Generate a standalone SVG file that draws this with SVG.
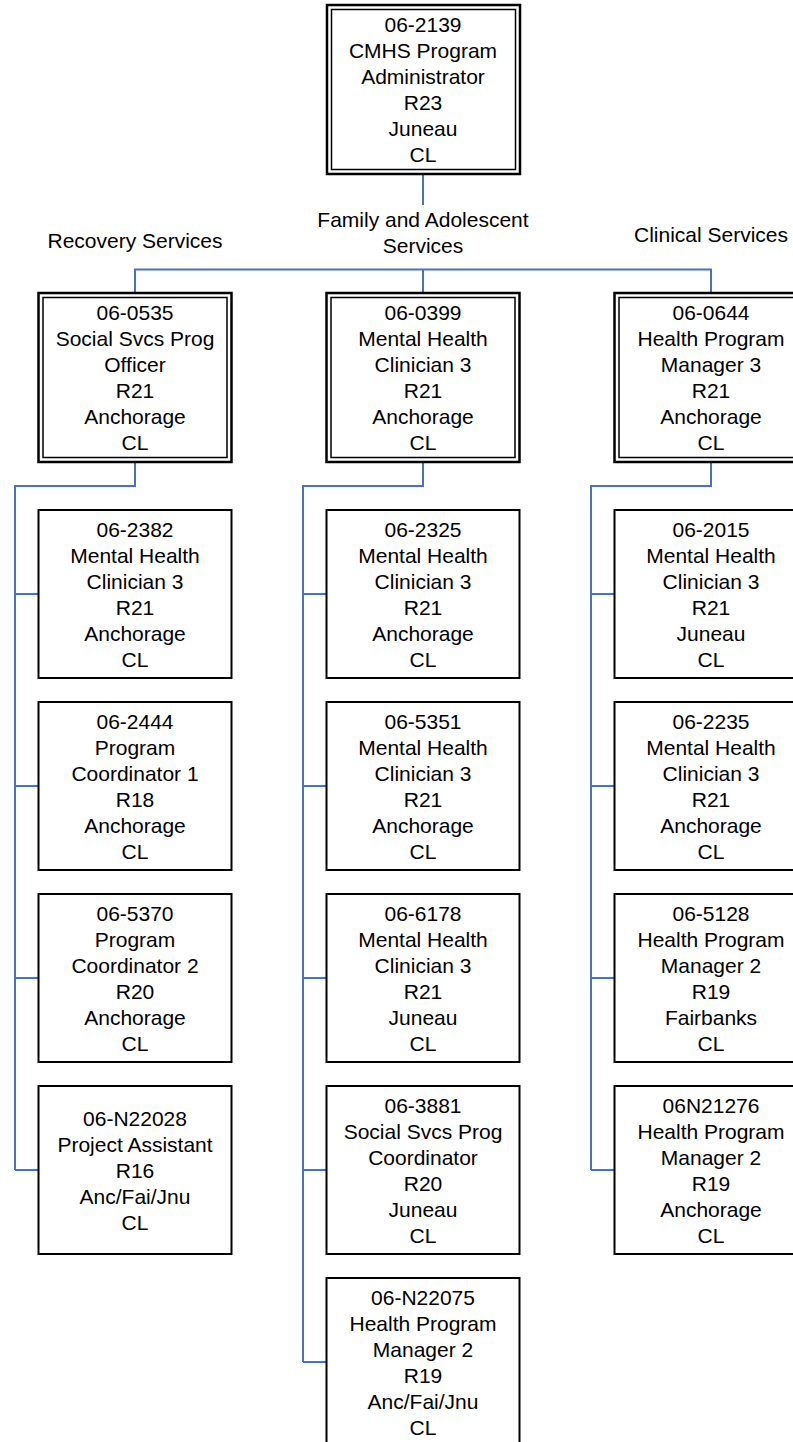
<svg xmlns="http://www.w3.org/2000/svg" width="793" height="1442" viewBox="0 0 793 1442">
<style>
.box{fill:#fff;stroke:#000;stroke-width:2}
.outer{fill:#fff;stroke:#000;stroke-width:2.5}
.inner{fill:none;stroke:#000;stroke-width:1.5}
.t{font-family:"Liberation Sans",Arial,sans-serif;font-size:21px;text-anchor:middle;fill:#000}
.c{stroke:#4472C4;stroke-width:2;fill:none}
</style>
<rect width="793" height="1442" fill="#fff"/>
<g id="connectors">
<path class="c" d="M423 174V205"/>
<path class="c" d="M135 293V269.5H711V293M423 269.5V293"/>
<path class="c" d="M135 462V486H15V1170M15 594H38.5M15 786H38.5M15 978H38.5M15 1170H38.5"/>
<path class="c" d="M423 462V486H303V1362M303 594H326.5M303 786H326.5M303 978H326.5M303 1170H326.5M303 1362H326.5"/>
<path class="c" d="M711 462V486H591V1170M591 594H614.5M591 786H614.5M591 978H614.5M591 1170H614.5"/>
</g>
<g id="labels">
<text class="t" x="135" y="247.5">Recovery Services</text>
<text class="t" x="423" y="227"><tspan x="423">Family and Adolescent</tspan><tspan x="423" dy="26">Services</tspan></text>
<text class="t" x="711" y="242">Clinical Services</text>
</g>
<g id="n-06-2139">
<rect class="outer" x="327" y="5" width="193" height="169"/>
<rect class="inner" x="331.5" y="9.5" width="184" height="160"/>
<text class="t" y="32"><tspan x="423">06-2139</tspan><tspan x="423" dy="26">CMHS Program</tspan><tspan x="423" dy="26">Administrator</tspan><tspan x="423" dy="26">R23</tspan><tspan x="423" dy="26">Juneau</tspan><tspan x="423" dy="26">CL</tspan></text>
</g>
<g id="n-06-0535">
<rect class="outer" x="38.5" y="293" width="193" height="169"/>
<rect class="inner" x="43" y="297.5" width="184" height="160"/>
<text class="t" y="320"><tspan x="135">06-0535</tspan><tspan x="135" dy="26">Social Svcs Prog</tspan><tspan x="135" dy="26">Officer</tspan><tspan x="135" dy="26">R21</tspan><tspan x="135" dy="26">Anchorage</tspan><tspan x="135" dy="26">CL</tspan></text>
</g>
<g id="n-06-0399">
<rect class="outer" x="326.5" y="293" width="193" height="169"/>
<rect class="inner" x="331" y="297.5" width="184" height="160"/>
<text class="t" y="320"><tspan x="423">06-0399</tspan><tspan x="423" dy="26">Mental Health</tspan><tspan x="423" dy="26">Clinician 3</tspan><tspan x="423" dy="26">R21</tspan><tspan x="423" dy="26">Anchorage</tspan><tspan x="423" dy="26">CL</tspan></text>
</g>
<g id="n-06-0644">
<rect class="outer" x="614.5" y="293" width="193" height="169"/>
<rect class="inner" x="619" y="297.5" width="184" height="160"/>
<text class="t" y="320"><tspan x="711">06-0644</tspan><tspan x="711" dy="26">Health Program</tspan><tspan x="711" dy="26">Manager 3</tspan><tspan x="711" dy="26">R21</tspan><tspan x="711" dy="26">Anchorage</tspan><tspan x="711" dy="26">CL</tspan></text>
</g>
<g id="n-06-2382">
<rect class="box" x="38.5" y="510" width="193" height="168"/>
<text class="t" y="537"><tspan x="135">06-2382</tspan><tspan x="135" dy="26">Mental Health</tspan><tspan x="135" dy="26">Clinician 3</tspan><tspan x="135" dy="26">R21</tspan><tspan x="135" dy="26">Anchorage</tspan><tspan x="135" dy="26">CL</tspan></text>
</g>
<g id="n-06-2444">
<rect class="box" x="38.5" y="702" width="193" height="168"/>
<text class="t" y="729"><tspan x="135">06-2444</tspan><tspan x="135" dy="26">Program</tspan><tspan x="135" dy="26">Coordinator 1</tspan><tspan x="135" dy="26">R18</tspan><tspan x="135" dy="26">Anchorage</tspan><tspan x="135" dy="26">CL</tspan></text>
</g>
<g id="n-06-5370">
<rect class="box" x="38.5" y="894" width="193" height="168"/>
<text class="t" y="921"><tspan x="135">06-5370</tspan><tspan x="135" dy="26">Program</tspan><tspan x="135" dy="26">Coordinator 2</tspan><tspan x="135" dy="26">R20</tspan><tspan x="135" dy="26">Anchorage</tspan><tspan x="135" dy="26">CL</tspan></text>
</g>
<g id="n-06-N22028">
<rect class="box" x="38.5" y="1086" width="193" height="168"/>
<text class="t" y="1125.5"><tspan x="135">06-N22028</tspan><tspan x="135" dy="26">Project Assistant</tspan><tspan x="135" dy="26">R16</tspan><tspan x="135" dy="26">Anc/Fai/Jnu</tspan><tspan x="135" dy="26">CL</tspan></text>
</g>
<g id="n-06-2325">
<rect class="box" x="326.5" y="510" width="193" height="168"/>
<text class="t" y="537"><tspan x="423">06-2325</tspan><tspan x="423" dy="26">Mental Health</tspan><tspan x="423" dy="26">Clinician 3</tspan><tspan x="423" dy="26">R21</tspan><tspan x="423" dy="26">Anchorage</tspan><tspan x="423" dy="26">CL</tspan></text>
</g>
<g id="n-06-5351">
<rect class="box" x="326.5" y="702" width="193" height="168"/>
<text class="t" y="729"><tspan x="423">06-5351</tspan><tspan x="423" dy="26">Mental Health</tspan><tspan x="423" dy="26">Clinician 3</tspan><tspan x="423" dy="26">R21</tspan><tspan x="423" dy="26">Anchorage</tspan><tspan x="423" dy="26">CL</tspan></text>
</g>
<g id="n-06-6178">
<rect class="box" x="326.5" y="894" width="193" height="168"/>
<text class="t" y="921"><tspan x="423">06-6178</tspan><tspan x="423" dy="26">Mental Health</tspan><tspan x="423" dy="26">Clinician 3</tspan><tspan x="423" dy="26">R21</tspan><tspan x="423" dy="26">Juneau</tspan><tspan x="423" dy="26">CL</tspan></text>
</g>
<g id="n-06-3881">
<rect class="box" x="326.5" y="1086" width="193" height="168"/>
<text class="t" y="1113"><tspan x="423">06-3881</tspan><tspan x="423" dy="26">Social Svcs Prog</tspan><tspan x="423" dy="26">Coordinator</tspan><tspan x="423" dy="26">R20</tspan><tspan x="423" dy="26">Juneau</tspan><tspan x="423" dy="26">CL</tspan></text>
</g>
<g id="n-06-N22075">
<rect class="box" x="326.5" y="1278" width="193" height="168"/>
<text class="t" y="1305"><tspan x="423">06-N22075</tspan><tspan x="423" dy="26">Health Program</tspan><tspan x="423" dy="26">Manager 2</tspan><tspan x="423" dy="26">R19</tspan><tspan x="423" dy="26">Anc/Fai/Jnu</tspan><tspan x="423" dy="26">CL</tspan></text>
</g>
<g id="n-06-2015">
<rect class="box" x="614.5" y="510" width="193" height="168"/>
<text class="t" y="537"><tspan x="711">06-2015</tspan><tspan x="711" dy="26">Mental Health</tspan><tspan x="711" dy="26">Clinician 3</tspan><tspan x="711" dy="26">R21</tspan><tspan x="711" dy="26">Juneau</tspan><tspan x="711" dy="26">CL</tspan></text>
</g>
<g id="n-06-2235">
<rect class="box" x="614.5" y="702" width="193" height="168"/>
<text class="t" y="729"><tspan x="711">06-2235</tspan><tspan x="711" dy="26">Mental Health</tspan><tspan x="711" dy="26">Clinician 3</tspan><tspan x="711" dy="26">R21</tspan><tspan x="711" dy="26">Anchorage</tspan><tspan x="711" dy="26">CL</tspan></text>
</g>
<g id="n-06-5128">
<rect class="box" x="614.5" y="894" width="193" height="168"/>
<text class="t" y="921"><tspan x="711">06-5128</tspan><tspan x="711" dy="26">Health Program</tspan><tspan x="711" dy="26">Manager 2</tspan><tspan x="711" dy="26">R19</tspan><tspan x="711" dy="26">Fairbanks</tspan><tspan x="711" dy="26">CL</tspan></text>
</g>
<g id="n-06N21276">
<rect class="box" x="614.5" y="1086" width="193" height="168"/>
<text class="t" y="1113"><tspan x="711">06N21276</tspan><tspan x="711" dy="26">Health Program</tspan><tspan x="711" dy="26">Manager 2</tspan><tspan x="711" dy="26">R19</tspan><tspan x="711" dy="26">Anchorage</tspan><tspan x="711" dy="26">CL</tspan></text>
</g>
</svg>
